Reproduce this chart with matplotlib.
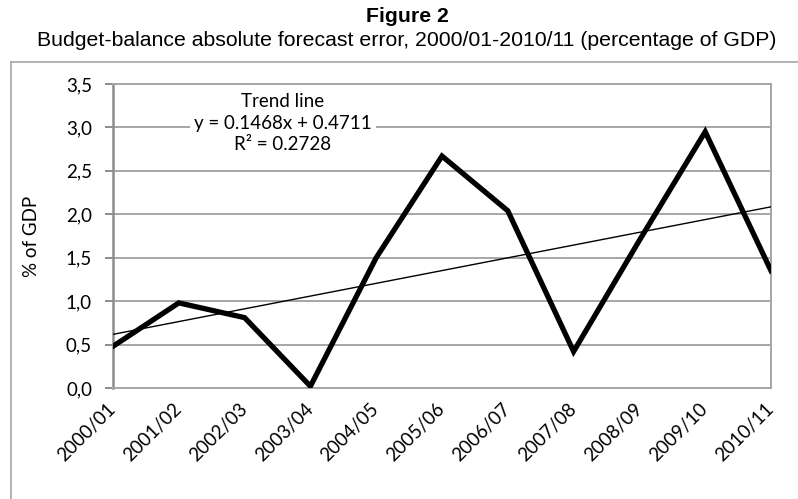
import matplotlib.pyplot as plt
from matplotlib.lines import Line2D
import numpy as np

years = ['2000/01', '2001/02', '2002/03', '2003/04', '2004/05', '2005/06',
         '2006/07', '2007/08', '2008/09', '2009/10', '2010/11']
error = [0.48, 0.98, 0.81, 0.02, 1.50, 2.67, 2.04, 0.42, 1.70, 2.95, 1.35]
slope = 0.1468
intercept = 0.4711
r2 = 0.2728

W, H = 798, 499
fig = plt.figure(figsize=(W / 100, H / 100), dpi=100)

# plot box in pixels: left 113, right 771, top 84, bottom 388
ax = fig.add_axes([113 / W, (H - 388) / H, 658 / W, 304 / H])

x = np.arange(len(years))
trend = slope * (x + 1) + intercept

ax.plot(x, trend, color='black', lw=1.0, zorder=3)
ax.plot(x, error, color='black', lw=3.8, solid_joinstyle='miter', zorder=4)

ax.set_xlim(0, len(years) - 1)
ax.set_ylim(0, 3.5)
ax.set_yticks(np.arange(0, 3.51, 0.5))
ax.set_yticklabels([f'{v:.1f}'.replace('.', ',') for v in np.arange(0, 3.51, 0.5)])
ax.set_xticks(x)
ax.set_xticklabels(years, rotation=45, ha='right', va='center', rotation_mode='anchor')
ax.grid(axis='y', color='#a6a6a6', lw=1.4, zorder=0)
ax.set_axisbelow(True)

fs = 13.5
ax.tick_params(axis='x', length=0, pad=13, labelsize=fs)
ax.tick_params(axis='y', length=5.8, width=1.4, color='#8c8c8c', pad=9.3, labelsize=fs)
for lab in ax.get_xticklabels() + ax.get_yticklabels():
    lab.set_fontfamily('Lato')

for s in ['top', 'right', 'bottom']:
    ax.spines[s].set_color('#a6a6a6')
    ax.spines[s].set_linewidth(1.4)
ax.spines['left'].set_color('#8c8c8c')
ax.spines['left'].set_linewidth(1.8)

ax.set_ylabel('% of GDP', fontfamily='Lato', fontsize=fs)
ax.yaxis.set_label_coords(-(113 - 40) / 658, 0.5)

ax.text(2.58, 3.05,
        f'Trend line\ny = {slope}x + {intercept}\nR² = {r2}',
        ha='center', va='center', fontfamily='Lato', fontsize=fs,
        linespacing=1.35, zorder=5,
        bbox=dict(facecolor='white', edgecolor='none', pad=3))

fig.text(407 / W, 1 - 17 / H, 'Figure 2', ha='center', va='center',
         fontfamily='Liberation Sans', fontweight='bold', fontsize=15.3)
fig.text(407 / W, 1 - 41 / H,
         'Budget-balance absolute forecast error, 2000/01-2010/11 (percentage of GDP)',
         ha='center', va='center', fontfamily='Liberation Sans', fontsize=15.3)

# outer frame lines
fig.add_artist(Line2D([11 / W, 1], [1 - 62 / H, 1 - 62 / H], color='#a6a6a6', lw=1.2))
fig.add_artist(Line2D([11 / W, 11 / W], [0, 1 - 62 / H], color='#a6a6a6', lw=1.2))

fig.savefig('out.png', dpi=100)
